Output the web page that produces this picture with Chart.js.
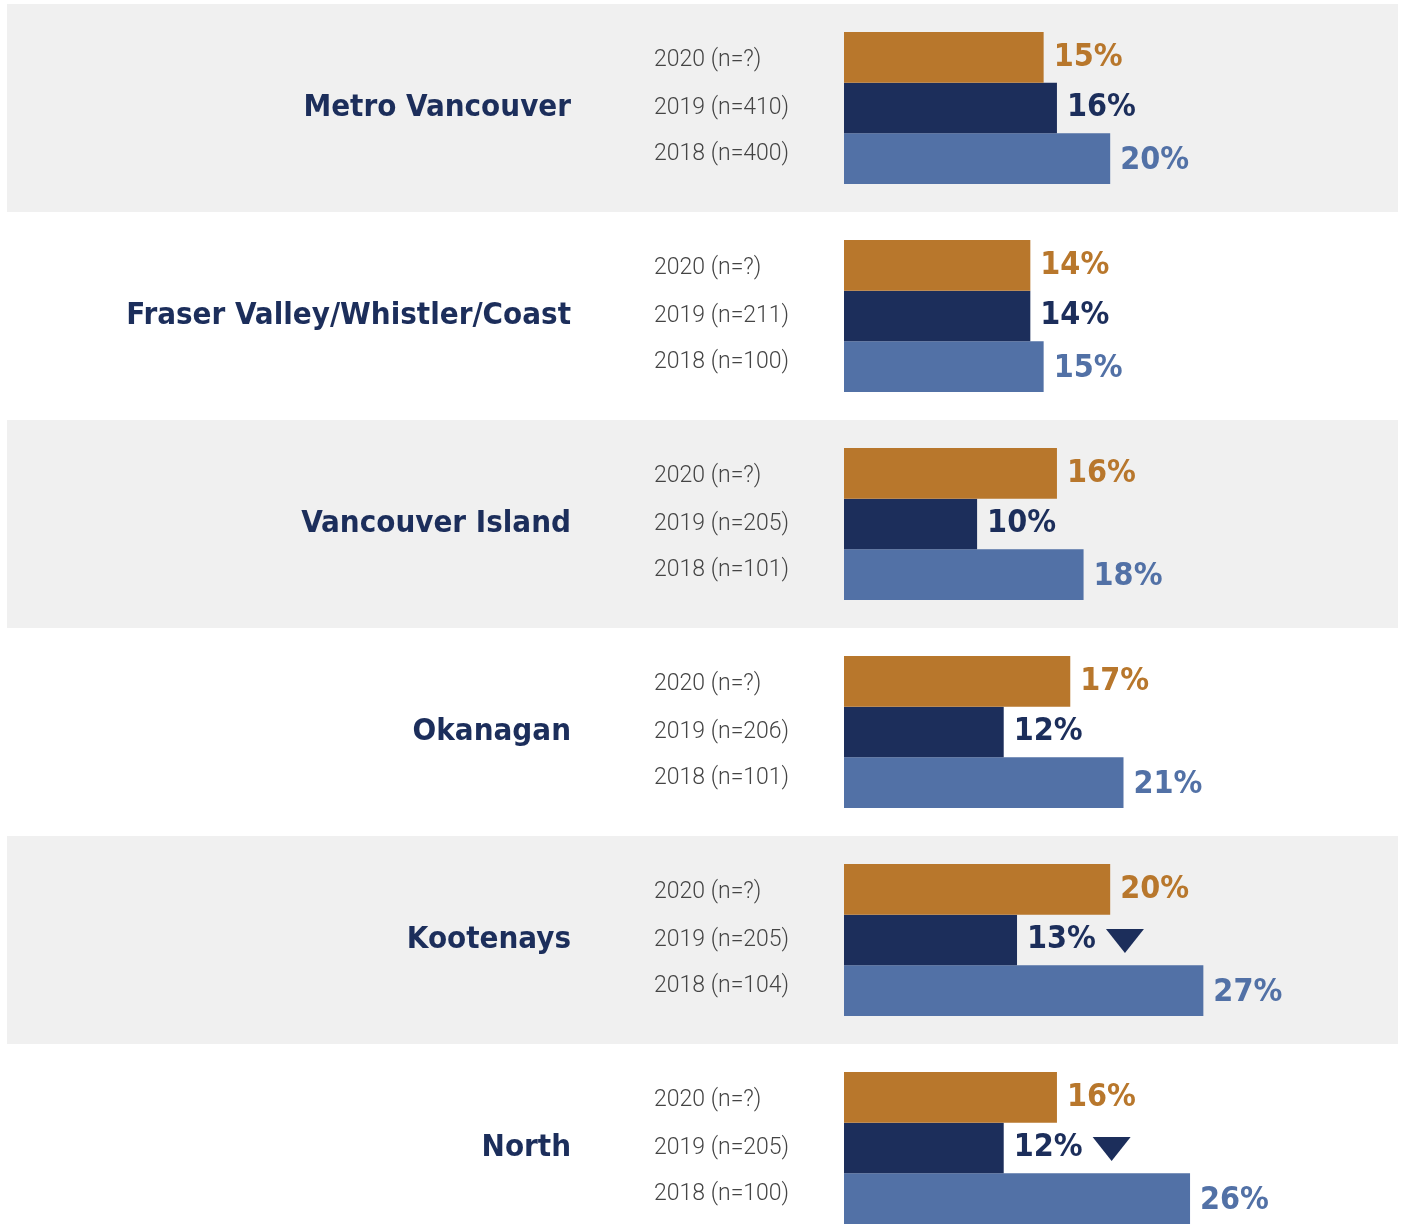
<!DOCTYPE html>
<html>
<head>
<meta charset="utf-8">
<script src="https://cdn.jsdelivr.net/npm/chart.js@4.4.1/dist/chart.umd.min.js"></script>
<style>
  html, body { margin: 0; padding: 0; background: #ffffff; overflow: hidden; }
  canvas { display: block; }
</style>
</head>
<body>
<canvas id="chart" width="1403" height="1252"></canvas>
<script>
const regions = [
  "Metro Vancouver",
  "Fraser Valley/Whistler/Coast",
  "Vancouver Island",
  "Okanagan",
  "Kootenays",
  "North"
];

const years = ["2020", "2019", "2018"];

const values2020 = [15, 14, 16, 17, 20, 16];
const values2019 = [16, 14, 10, 12, 13, 12];
const values2018 = [20, 15, 18, 21, 27, 26];

const sample2020 = ["?", "?", "?", "?", "?", "?"];
const sample2019 = ["410", "211", "205", "206", "205", "205"];
const sample2018 = ["400", "100", "101", "101", "104", "100"];

// significant decrease vs previous year (2019 row only)
const down2019 = [false, false, false, false, true, true];

const colors = ["#B8772C", "#1C2E5B", "#5271A6"];
const bandColor = "#F0F0F0";

const seriesValues = [values2020, values2019, values2018];
const seriesSamples = [sample2020, sample2019, sample2018];

const bandsPlugin = {
  id: "bands",
  beforeDraw(chart) {
    const ctx = chart.ctx;
    const y = chart.scales.y;
    const step = y.getPixelForValue(1) - y.getPixelForValue(0);
    ctx.save();
    ctx.fillStyle = bandColor;
    regions.forEach((r, i) => {
      if (i % 2 !== 0) return;
      const c = y.getPixelForValue(i);
      ctx.fillRect(7, c - step / 2, 1391, step);
    });
    ctx.restore();
  }
};

const labelsPlugin = {
  id: "barLabels",
  afterDatasetsDraw(chart) {
    const ctx = chart.ctx;
    ctx.save();
    chart.data.datasets.forEach((ds, di) => {
      const meta = chart.getDatasetMeta(di);
      meta.data.forEach((bar, i) => {
        // year / sample size label
        const nudge = di === 0 ? 3 : (di === 2 ? -4 : 0);
        ctx.font = "300 23px Roboto";
        ctx.fillStyle = "#444444";
        ctx.textAlign = "left";
        ctx.textBaseline = "middle";
        ctx.fillText(years[di] + " (n=" + seriesSamples[di][i] + ")", 654, bar.y + nudge);

        // value label
        const txt = ds.data[i] + "%";
        ctx.font = "bold 32px 'DejaVu Sans Condensed'";
        ctx.fillStyle = colors[di];
        const tx = bar.x + 10;
        const ty = bar.y + (di === 2 ? 2 : 0);
        ctx.fillText(txt, tx, ty);

        if (di === 1 && down2019[i]) {
          const w = ctx.measureText(txt).width;
          const x0 = tx + w + 10;
          ctx.beginPath();
          ctx.moveTo(x0, bar.y - 11);
          ctx.lineTo(x0 + 38, bar.y - 11);
          ctx.lineTo(x0 + 19, bar.y + 13);
          ctx.closePath();
          ctx.fillStyle = colors[1];
          ctx.fill();
        }
      });
    });
    ctx.restore();
  }
};

new Chart(document.getElementById("chart"), {
  type: "bar",
  data: {
    labels: regions,
    datasets: years.map((yr, di) => ({
      label: yr,
      data: seriesValues[di],
      backgroundColor: colors[di],
      borderWidth: 0,
      categoryPercentage: 0.731,
      barPercentage: 1.0
    }))
  },
  options: {
    indexAxis: "y",
    responsive: false,
    animation: false,
    devicePixelRatio: 1,
    layout: { padding: { top: 4, bottom: 0, left: 0, right: 0 } },
    plugins: {
      legend: { display: false },
      tooltip: { enabled: false }
    },
    scales: {
      x: {
        display: false,
        min: 0,
        max: 42
      },
      y: {
        afterFit(scale) {
          scale.width = 844;
          // tick padding is also added above/below the axis; drop it
          scale.paddingTop = 0;
          scale.paddingBottom = 0;
        },
        grid: { display: false, drawTicks: false },
        border: { display: false },
        ticks: {
          padding: 273,
          color: "#1C2E5B",
          font: { family: "'DejaVu Sans Condensed'", weight: "bold", size: 31 }
        }
      }
    }
  },
  plugins: [bandsPlugin, labelsPlugin]
});
</script>
</body>
</html>
